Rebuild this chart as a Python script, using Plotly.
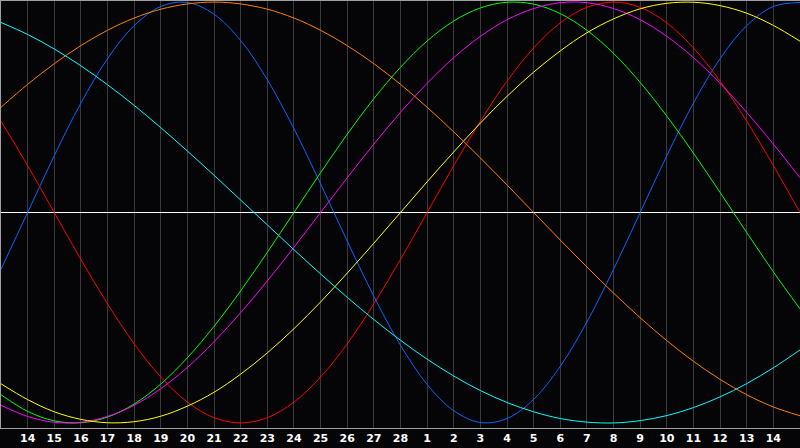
import plotly.graph_objects as go

# day labels, 13 Feb .. 15 Mar (centre = 28)
day_labels = ["13", "14", "15", "16", "17", "18", "19", "20", "21", "22", "23", "24", "25", "26", "27", "28",
              "1", "2", "3", "4", "5", "6", "7", "8", "9", "10", "11", "12", "13", "14", "15"]
day_index = list(range(len(day_labels)))

physical = [-27.0, 0.0, 27.0, 52.0, 73.1, 88.8, 97.9, 99.8, 94.2, 81.7, 63.1, 39.8, 13.6, -13.6, -39.8, -63.1,
            -81.7, -94.2, -99.8, -97.9, -88.8, -73.1, -52.0, -27.0, 0.0, 27.0, 52.0, 73.1, 88.8, 97.9, 99.8]
emotional = [43.4, 22.3, 0.0, -22.3, -43.4, -62.4, -78.2, -90.1, -97.5, -100.0, -97.5, -90.1, -78.2, -62.4, -43.4, -22.3,
             0.0, 22.3, 43.4, 62.4, 78.2, 90.1, 97.5, 100.0, 97.5, 90.1, 78.2, 62.4, 43.4, 22.3, 0.0]
intellectual = [-86.6, -94.5, -99.0, -99.9, -97.2, -91.0, -81.5, -69.0, -54.1, -37.2, -18.9, 0.0, 18.9, 37.2, 54.1, 69.0,
                81.5, 91.0, 97.2, 99.9, 99.0, 94.5, 86.6, 75.6, 61.8, 45.8, 28.2, 9.5, -9.5, -28.2, -45.8]
intuitive = [-91.6, -96.9, -99.7, -99.7, -96.9, -91.6, -83.7, -73.6, -61.4, -47.6, -32.5, -16.5, 0.0, 16.5, 32.5, 47.6,
             61.4, 73.6, 83.7, 91.6, 96.9, 99.7, 99.7, 96.9, 91.6, 83.7, 73.6, 61.4, 47.6, 32.5, 16.5]
aesthetic = [-81.4, -88.9, -94.7, -98.3, -99.9, -99.4, -96.8, -92.0, -85.4, -76.8, -66.7, -55.2, -42.5, -28.8, -14.6, 0.0,
             14.6, 28.8, 42.5, 55.2, 66.7, 76.8, 85.4, 92.0, 96.8, 99.4, 99.9, 98.3, 94.7, 88.9, 81.4]
awareness = [50.0, 60.9, 70.7, 79.3, 86.6, 92.4, 96.6, 99.1, 100.0, 99.1, 96.6, 92.4, 86.6, 79.3, 70.7, 60.9,
             50.0, 38.3, 25.9, 13.1, 0.0, -13.1, -25.9, -38.3, -50.0, -60.9, -70.7, -79.3, -86.6, -92.4, -96.6]
spiritual = [90.3, 84.6, 77.7, 69.7, 60.7, 50.9, 40.3, 29.2, 17.7, 5.9, -5.9, -17.7, -29.2, -40.3, -50.9, -60.7,
             -69.7, -77.7, -84.6, -90.3, -94.7, -97.9, -99.6, -100.0, -98.9, -96.5, -92.7, -87.6, -81.3, -73.8, -65.3]

series = (
    (physical, "#0a64ff"),
    (emotional, "#ff0000"),
    (intellectual, "#00ff00"),
    (intuitive, "#ff00ff"),
    (aesthetic, "#ffff00"),
    (awareness, "#ff8000"),
    (spiritual, "#00ffff"),
)

fig = go.Figure()
for values, color in series:
    fig.add_trace(go.Scatter(x=day_index, y=values, mode="lines", line=dict(color=color, width=1, shape="spline"),
                             hoverinfo="skip"))

# white centre line (today)
fig.add_shape(type="line", xref="x", yref="paper", x0=15, x1=15, y0=0, y1=1,
              line=dict(color="#ffffff", width=1), layer="below")

fig.update_layout(
    width=800,
    height=448,
    paper_bgcolor="#050508",
    plot_bgcolor="#050508",
    margin=dict(l=1, r=0, t=1, b=20),
    showlegend=False,
)
fig.update_xaxes(
    range=[0, 30],
    tickvals=day_index[1:-1],
    ticktext=day_labels[1:-1],
    tickfont=dict(family="DejaVu Sans", size=11, color="#ffffff", weight="bold"),
    ticks="",
    showgrid=True,
    gridcolor="#3a3a3a",
    gridwidth=1,
    zeroline=False,
    showline=True,
    linecolor="#a0a0a0",
    linewidth=1,
    mirror=True,
)
fig.update_yaxes(
    range=[-102.4, 100.5],
    showticklabels=False,
    ticks="",
    showgrid=False,
    zeroline=True,
    zerolinecolor="#ffffff",
    zerolinewidth=1,
    showline=True,
    linecolor="#a0a0a0",
    linewidth=1,
)

fig.write_html(
    "out.html",
    config={"displayModeBar": False},
    post_script="document.body.style.margin='0';document.body.style.background='#050508';",
)
